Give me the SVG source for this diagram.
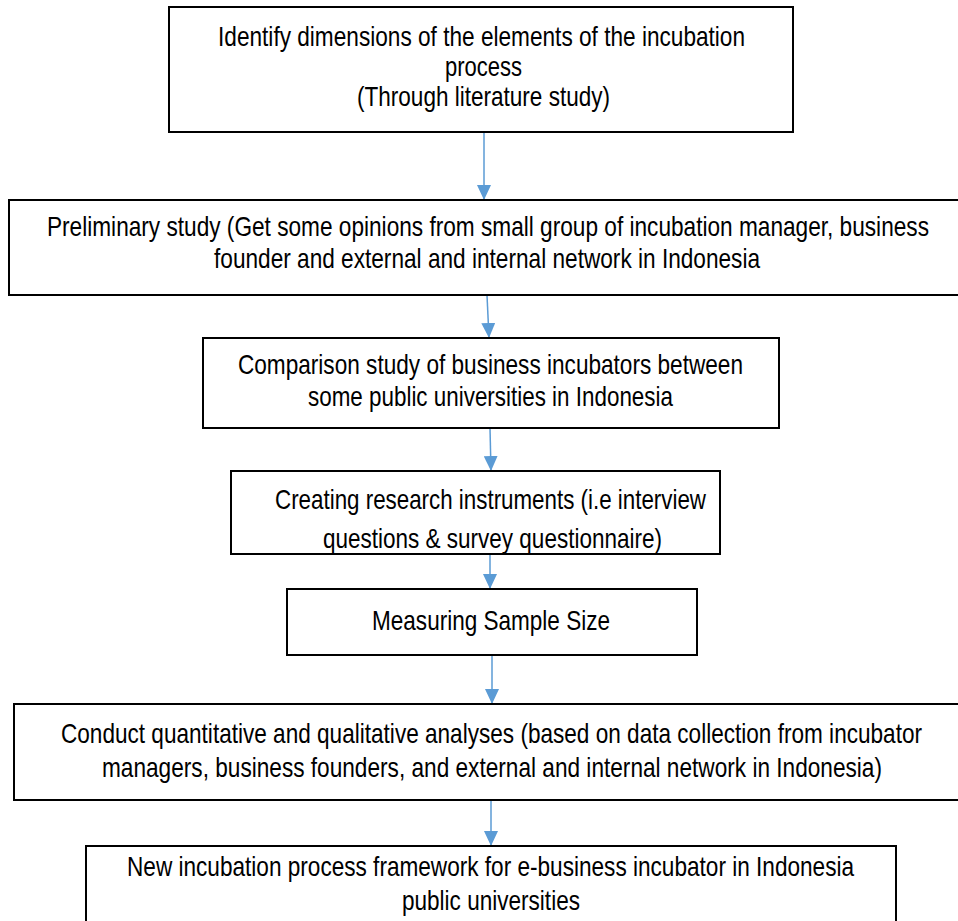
<svg xmlns="http://www.w3.org/2000/svg" width="958" height="921" viewBox="0 0 958 921">
<style>
.box{fill:#fff;stroke:#000;stroke-width:2}
.open{fill:none;stroke:#000;stroke-width:2}
.t{font-family:"Liberation Sans Narrow","Arial Narrow","Liberation Sans",Arial,sans-serif;font-size:27px;fill:#000;text-anchor:start}
.c{stroke:#5B9BD5;stroke-width:1.5;fill:none}
</style>
<defs>
<marker id="ah" markerWidth="15" markerHeight="14" refX="15" refY="7" orient="auto" markerUnits="userSpaceOnUse">
<path d="M0,0 L15,7 L0,14 Z" fill="#5B9BD5"/>
</marker>
<clipPath id="clip4"><rect x="231" y="471" width="489" height="82"/></clipPath>
</defs>
<rect width="958" height="921" fill="#fff"/>
<g id="connectors">
<line class="c" x1="484" y1="132" x2="484" y2="200" marker-end="url(#ah)"/>
<line class="c" x1="487" y1="295" x2="489" y2="338" marker-end="url(#ah)"/>
<line class="c" x1="490" y1="428" x2="491" y2="471" marker-end="url(#ah)"/>
<line class="c" x1="490" y1="554" x2="490" y2="589" marker-end="url(#ah)"/>
<line class="c" x1="492" y1="655" x2="492" y2="704" marker-end="url(#ah)"/>
<line class="c" x1="491" y1="800" x2="491" y2="846" marker-end="url(#ah)"/>
</g>
<g id="n1">
<rect class="box" x="169" y="7" width="624" height="125"/>
<text class="t" transform="scale(0.82 1)" x="265.9" y="46" textLength="642.7" lengthAdjust="spacingAndGlyphs">Identify dimensions of the elements of the incubation</text>
<text class="t" transform="scale(0.82 1)" x="542.7" y="76" textLength="93.9" lengthAdjust="spacingAndGlyphs">process</text>
<text class="t" transform="scale(0.82 1)" x="435.4" y="106" textLength="308.5" lengthAdjust="spacingAndGlyphs">(Through literature study)</text>
</g>
<g id="n2">
<path class="open" d="M958,200 H9 V295 H958"/>
<text class="t" transform="scale(0.82 1)" x="57.3" y="236" textLength="1075.6" lengthAdjust="spacingAndGlyphs">Preliminary study (Get some opinions from small group of incubation manager, business</text>
<text class="t" transform="scale(0.82 1)" x="261" y="268" textLength="665.9" lengthAdjust="spacingAndGlyphs">founder and external and internal network in Indonesia</text>
</g>
<g id="n3">
<rect class="box" x="203" y="338" width="576" height="90"/>
<text class="t" transform="scale(0.82 1)" x="290.2" y="374" textLength="615.9" lengthAdjust="spacingAndGlyphs">Comparison study of business incubators between</text>
<text class="t" transform="scale(0.82 1)" x="375.6" y="406" textLength="445.1" lengthAdjust="spacingAndGlyphs">some public universities in Indonesia</text>
</g>
<g id="n4">
<rect class="box" x="231" y="471" width="489" height="83"/>
<g clip-path="url(#clip4)">
<text class="t" transform="scale(0.82 1)" x="335.4" y="509" textLength="525.6" lengthAdjust="spacingAndGlyphs">Creating research instruments (i.e interview</text>
<text class="t" transform="scale(0.82 1)" x="393.9" y="548" textLength="413.4" lengthAdjust="spacingAndGlyphs">questions &amp; survey questionnaire)</text>
</g>
</g>
<g id="n5">
<rect class="box" x="287" y="589" width="410" height="66"/>
<text class="t" transform="scale(0.82 1)" x="453.7" y="630" textLength="290.2" lengthAdjust="spacingAndGlyphs">Measuring Sample Size</text>
</g>
<g id="n6">
<path class="open" d="M958,704 H14 V800 H958"/>
<text class="t" transform="scale(0.82 1)" x="74.4" y="743" textLength="1050" lengthAdjust="spacingAndGlyphs">Conduct quantitative and qualitative analyses (based on data collection from incubator</text>
<text class="t" transform="scale(0.82 1)" x="124.4" y="777" textLength="951.2" lengthAdjust="spacingAndGlyphs">managers, business founders, and external and internal network in Indonesia)</text>
</g>
<g id="n7">
<path class="open" d="M86,921 V846 H896 V921"/>
<text class="t" transform="scale(0.82 1)" x="154.9" y="876" textLength="886.6" lengthAdjust="spacingAndGlyphs">New incubation process framework for e-business incubator in Indonesia</text>
<text class="t" transform="scale(0.82 1)" x="490.2" y="910" textLength="217.1" lengthAdjust="spacingAndGlyphs">public universities</text>
</g>
</svg>
